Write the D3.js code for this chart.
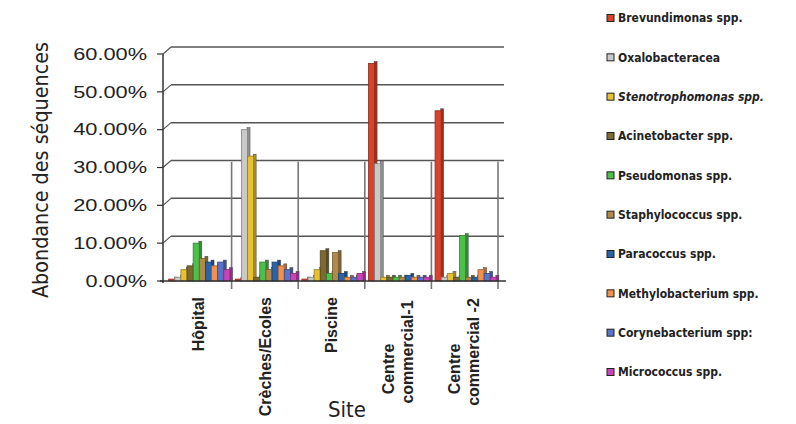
<!DOCTYPE html>
<html>
<head>
<meta charset="utf-8">
<script src="https://cdn.jsdelivr.net/npm/d3@7"></script>
<style>
  body { margin: 0; background: #fff; }
  svg text { fill: #222; }
</style>
</head>
<body>
<div id="chart"></div>
<script>
// Data (percent)
var sites = ["Hôpital", "Crèches/Ecoles", "Piscine", "Centre commercial-1", "Centre commercial -2"];
var siteLines = [["Hôpital"], ["Crèches/Ecoles"], ["Piscine"], ["Centre", "commercial-1"], ["Centre", "commercial -2"]];
var taxa = ["Brevundimonas spp.", "Oxalobacteracea", "Stenotrophomonas spp.", "Acinetobacter spp.",
            "Pseudomonas spp.", "Staphylococcus spp.", "Paracoccus spp.", "Methylobacterium spp.",
            "Corynebacterium spp:", "Micrococcus spp."];
var brevundimonas    = [0.5, 0.5, 0.5, 57.5, 45];
var oxalobacteracea  = [1, 40, 1, 31, 1];
var stenotrophomonas = [3, 33, 3, 1, 2];
var acinetobacter    = [4, 1, 8, 1, 1];
var pseudomonas      = [10, 5, 2, 1, 12];
var staphylococcus   = [6, 3, 7.5, 1, 1];
var paracoccus       = [5, 5, 2, 1.5, 1];
var methylobacterium = [4, 4, 1, 1, 3];
var corynebacterium  = [5, 3, 1, 1, 2];
var micrococcus      = [3, 2, 2, 1, 1];
var series = [brevundimonas, oxalobacteracea, stenotrophomonas, acinetobacter, pseudomonas,
              staphylococcus, paracoccus, methylobacterium, corynebacterium, micrococcus];
var yTicks = [0, 10, 20, 30, 40, 50, 60];

var colors = ["#d9432c", "#c9c9c9", "#e6c232", "#7d6a32", "#4cc04a",
              "#b08a4a", "#2a63a8", "#f29050", "#5a72c8", "#c844b8"];

var width = 796, height = 424;
var svg = d3.select("#chart").append("svg")
    .attr("width", width)
    .attr("height", height);

var y = d3.scaleLinear().domain([0, 60]).range([281, 54]);
var x0 = d3.scaleBand().domain(sites).range([165, 498]).paddingInner(0.08).paddingOuter(0.04);
var x1 = d3.scaleBand().domain(d3.range(taxa.length)).range([0, x0.bandwidth()]);
var depth = 8, lift = 7;

// horizontal gridlines (3D back wall)
var grid = svg.append("g");
yTicks.filter(d => d > 0).forEach(function(v) {
    grid.append("line")
        .attr("x1", 163).attr("y1", y(v))
        .attr("x2", 163 + depth).attr("y2", y(v) - lift)
        .attr("stroke", "#555").attr("stroke-width", 1.2);
    grid.append("line")
        .attr("x1", 163 + depth).attr("y1", y(v) - lift)
        .attr("x2", 504).attr("y2", y(v) - lift)
        .attr("stroke", "#555").attr("stroke-width", 1.5);
});

// vertical category separators
var bounds = sites.map(s => x0(s) - x0.step() * x0.paddingInner() / 2).slice(1);
bounds.push(x0(sites[sites.length - 1]) + x0.bandwidth() + x0.step() * x0.paddingInner() / 2);
bounds.forEach(function(bx) {
    grid.append("line")
        .attr("x1", bx).attr("y1", 289)
        .attr("x2", bx).attr("y2", y(31.5))
        .attr("stroke", "#777").attr("stroke-width", 1.6);
});

// y axis
var yAxis = svg.append("g");
yAxis.append("line")
    .attr("x1", 163).attr("y1", y(60)).attr("x2", 163).attr("y2", y(0) + 2)
    .attr("stroke", "#333").attr("stroke-width", 1.5);
yAxis.selectAll(".tick").data(yTicks).enter().append("line")
    .attr("x1", 157).attr("x2", 163)
    .attr("y1", d => y(d)).attr("y2", d => y(d))
    .attr("stroke", "#333").attr("stroke-width", 1.2);
yAxis.selectAll(".lab").data(yTicks).enter().append("text")
    .attr("x", 147).attr("y", d => y(d))
    .attr("dy", "0.36em")
    .attr("text-anchor", "end")
    .attr("textLength", d => 12.3 * (d3.format(".2f")(d) + "%").length)
    .attr("lengthAdjust", "spacingAndGlyphs")
    .style("font-family", "Liberation Sans, Arial, sans-serif")
    .style("font-size", "16px")
    .text(d => d3.format(".2f")(d) + "%");

// bars, drawn per site, with a darker side face for the 3D look
var barG = svg.append("g");
sites.forEach(function(site, si) {
    series.forEach(function(vals, k) {
        var v = vals[si];
        var bx = x0(site) + x1(k) + 1;
        var bw = x1.bandwidth();
        var c = colors[k];
        barG.append("rect")
            .attr("x", bx + bw - 0.5).attr("y", y(v) - 2)
            .attr("width", 3).attr("height", y(0) - y(v) + 2)
            .attr("fill", d3.color(c).darker(0.9))
            .attr("stroke", "#444").attr("stroke-width", 0.5);
        barG.append("rect")
            .attr("x", bx).attr("y", y(v))
            .attr("width", bw).attr("height", y(0) - y(v))
            .attr("fill", c)
            .attr("stroke", d3.color(c).darker(1.2)).attr("stroke-width", 0.8);
    });
});

// x axis baseline
svg.append("line")
    .attr("x1", 160).attr("y1", y(0)).attr("x2", 506).attr("y2", y(0))
    .attr("stroke", "#333").attr("stroke-width", 1.5);

// category labels (rotated)
var xl = svg.append("g")
    .style("font-family", "Liberation Sans, Arial, sans-serif")
    .style("font-size", "16px")
    .style("font-weight", "bold");
sites.forEach(function(site, si) {
    var cx = x0(site) + x0.bandwidth() / 2;
    var lines = siteLines[si];
    if (lines.length === 1) {
        xl.append("text")
            .attr("transform", "translate(" + cx + ",297) rotate(-90)")
            .attr("text-anchor", "end")
            .attr("dy", "0.35em")
            .text(lines[0]);
    } else {
        xl.append("text")
            .attr("transform", "translate(" + (cx - 10) + ",369) rotate(-90)")
            .attr("text-anchor", "middle")
            .attr("dy", "0.35em")
            .text(lines[0]);
        xl.append("text")
            .attr("transform", "translate(" + (cx + 9) + ",352) rotate(-90)")
            .attr("text-anchor", "middle")
            .attr("dy", "0.35em")
            .text(lines[1]);
    }
});

// axis titles
svg.append("text")
    .attr("transform", "translate(40,170) rotate(-90)")
    .attr("text-anchor", "middle")
    .attr("dy", "0.35em")
    .attr("textLength", 256)
    .attr("lengthAdjust", "spacingAndGlyphs")
    .style("font-family", "DejaVu Sans Condensed, DejaVu Sans, sans-serif")
    .style("font-size", "22px")
    .text("Abondance des séquences");

svg.append("text")
    .attr("x", 347).attr("y", 417)
    .attr("text-anchor", "middle")
    .style("font-family", "DejaVu Sans Condensed, DejaVu Sans, sans-serif")
    .style("font-size", "22px")
    .text("Site");

// legend
var legend = svg.append("g")
    .style("font-family", "DejaVu Sans Condensed, DejaVu Sans, sans-serif")
    .style("font-size", "12px")
    .style("font-weight", "bold");
var ly = d3.scaleLinear().domain([0, taxa.length - 1]).range([18, 372]);
taxa.forEach(function(t, k) {
    legend.append("rect")
        .attr("x", 607).attr("y", ly(k) - 3.5)
        .attr("width", 7).attr("height", 7)
        .attr("fill", colors[k])
        .attr("stroke", "#222").attr("stroke-width", 1);
    legend.append("text")
        .attr("x", 618).attr("y", ly(k))
        .attr("dy", "0.36em")
        .style("font-style", k === 2 ? "italic" : "normal")
        .text(t);
});
</script>
</body>
</html>
